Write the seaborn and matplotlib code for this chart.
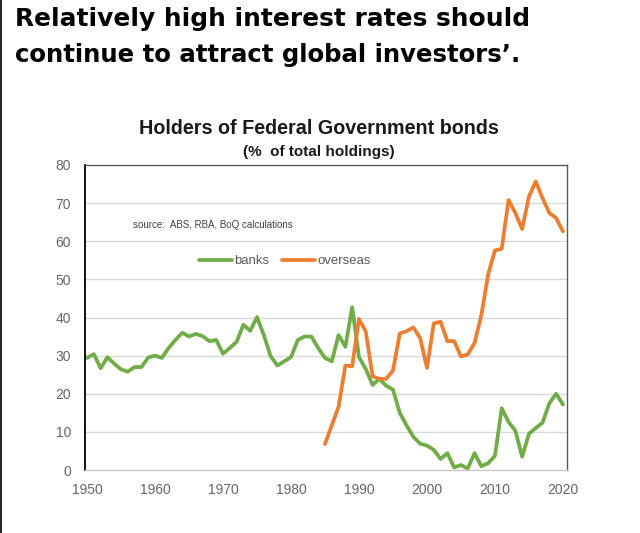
import matplotlib
matplotlib.use("Agg")
import matplotlib.pyplot as plt
from matplotlib.lines import Line2D
import numpy as np
import pandas as pd
import seaborn as sns

# Holders of Federal Government bonds, % of total holdings
bank_years = list(range(1950, 2021))
banks = [
    29.4, 30.4, 26.7, 29.6, 27.9, 26.4, 25.8, 27.0, 27.0, 29.5,   # 1950-59
    30.0, 29.4, 32.0, 34.1, 36.0, 35.0, 35.7, 35.1, 33.8, 34.1,   # 1960-69
    30.5, 32.0, 33.6, 38.1, 36.5, 40.1, 35.4, 29.9, 27.4, 28.5,   # 1970-79
    29.6, 34.1, 35.0, 35.0, 32.0, 29.4, 28.5, 35.4, 32.3, 42.7,   # 1980-89
    29.6, 26.5, 22.3, 23.9, 22.1, 21.1, 15.0, 11.7, 8.7, 6.9,     # 1990-99
    6.4, 5.3, 2.9, 4.4, 0.7, 1.3, 0.4, 4.4, 1.0, 1.8,             # 2000-09
    3.7, 16.2, 12.6, 10.3, 3.5, 9.5, 11.0, 12.4, 17.5, 20.0,      # 2010-19
    17.2,                                                          # 2020
]
overseas_years = list(range(1985, 2021))
overseas = [
    6.8, 11.7, 16.6, 27.4, 27.2,                                   # 1985-89
    39.6, 36.3, 24.6, 23.9, 23.9, 26.1, 35.8, 36.4, 37.4, 34.6,   # 1990-99
    26.8, 38.4, 38.9, 33.8, 33.8, 29.8, 30.3, 33.3, 40.6, 51.3,   # 2000-09
    57.6, 58.0, 70.8, 67.4, 63.2, 71.7, 75.7, 71.3, 67.4, 66.1,   # 2010-19
    62.6,                                                          # 2020
]
series_names = ["banks", "overseas"]
series_colors = ["#70AD47", "#ED7D31"]
y_ticks = [0, 10, 20, 30, 40, 50, 60, 70, 80]
x_ticks = [1950, 1960, 1970, 1980, 1990, 2000, 2010, 2020]

df = pd.concat([
    pd.DataFrame({"year": bank_years, "share": banks, "holder": "banks"}),
    pd.DataFrame({"year": overseas_years, "share": overseas, "holder": "overseas"}),
])

sns.set_theme(style="white")
plt.rcParams["font.family"] = ["Liberation Sans", "DejaVu Sans"]

fig = plt.figure(figsize=(6.4, 5.33), dpi=100)
fig.patch.set_facecolor("white")
ax = fig.add_axes([85 / 640, 63 / 533, 482 / 640, 305 / 533])

sns.lineplot(
    data=df, x="year", y="share", hue="holder",
    hue_order=series_names, palette=series_colors,
    linewidth=2.7, ax=ax, legend=False,
)

ax.set_xlim(1949.7, 2020.6)
ax.set_ylim(0, 80)
ax.set_xticks(x_ticks)
ax.set_yticks(y_ticks)
ax.set_xlabel("")
ax.set_ylabel("")
ax.tick_params(axis="both", length=0, labelsize=10, colors="#666666")
ax.tick_params(axis="x", pad=9)
ax.tick_params(axis="y", pad=10)
for v in y_ticks[1:-1]:
    ax.axhline(v, color="#d9d9d9", linewidth=1.0, zorder=0)

ax.spines["left"].set_color("#000000")
ax.spines["left"].set_linewidth(1.3)
ax.spines["bottom"].set_color("#c8c8c8")
ax.spines["bottom"].set_linewidth(1.0)
ax.spines["top"].set_color("#595959")
ax.spines["top"].set_linewidth(1.0)
ax.spines["right"].set_color("#595959")
ax.spines["right"].set_linewidth(1.0)

handles = [Line2D([0], [0], color=c, linewidth=2.7) for c in series_colors]
ax.legend(
    handles, series_names, loc="center", bbox_to_anchor=(0.415, 0.684),
    ncol=2, frameon=False, fontsize=9.5, handlelength=2.5, handletextpad=0.15,
    columnspacing=1.0, labelcolor="#595959",
)

ax.text(1956.7, 64.3, "source:  ABS, RBA, BoQ calculations", fontsize=7,
        color="#404040", va="center", ha="left")

fig.text(0.498, 1 - 128 / 533, "Holders of Federal Government bonds",
         ha="center", va="center", fontsize=14.2, fontweight="bold", color="#1a1a1a")
fig.text(0.498, 1 - 152 / 533, "(%  of total holdings)",
         ha="center", va="center", fontsize=11, fontweight="bold", color="#1a1a1a")

fig.text(15 / 640, 1 - 26 / 533, "Relatively high interest rates should",
         ha="left", va="baseline", fontsize=17.9, fontweight="bold",
         family=["DejaVu Sans"], color="#000000")
fig.text(15 / 640, 1 - 62 / 533, "continue to attract global investors\u2019.",
         ha="left", va="baseline", fontsize=17.6, fontweight="bold",
         family=["DejaVu Sans"], color="#000000")

fig.add_artist(Line2D([0.5 / 640, 0.5 / 640], [0, 1], transform=fig.transFigure,
                      color="black", linewidth=1.2))

fig.savefig("out.png", dpi=100, facecolor="white")
